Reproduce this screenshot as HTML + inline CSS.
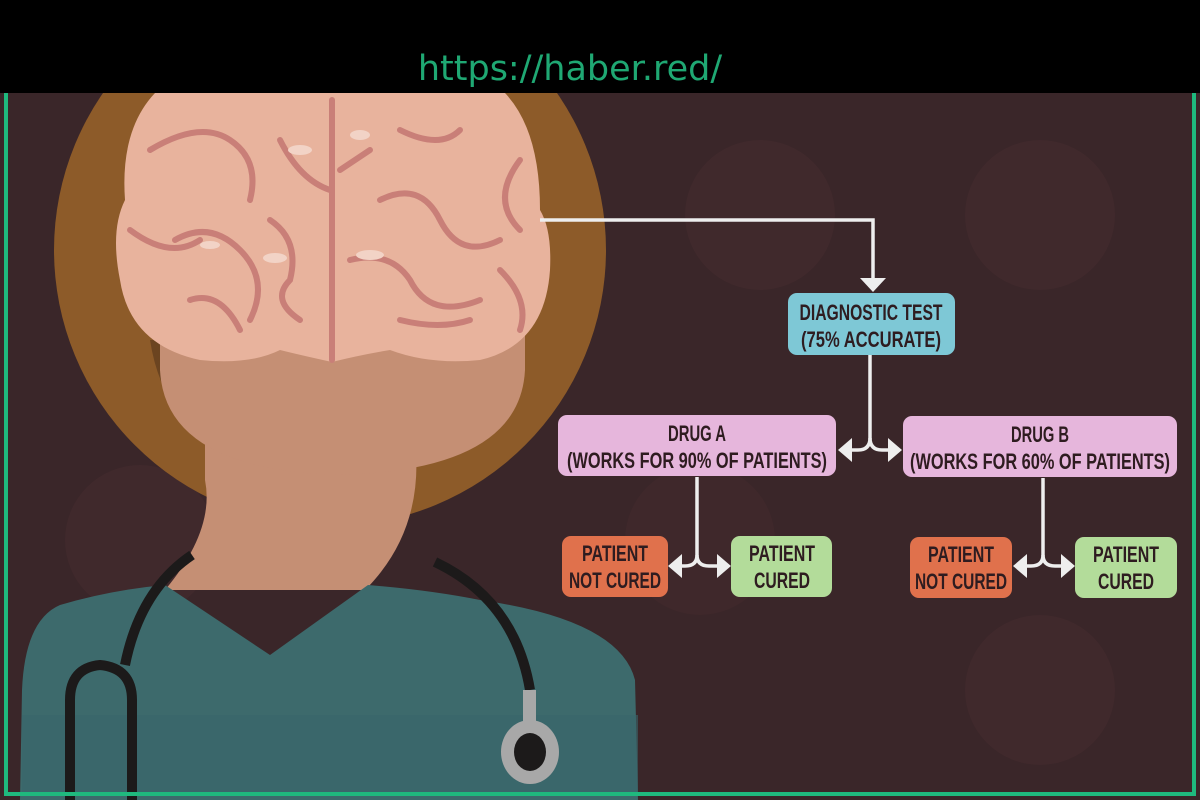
<!DOCTYPE html>
<html><head><meta charset="utf-8"><style>
html,body{margin:0;padding:0;background:#000;}
svg{display:block}
.t{font-family:"Liberation Sans",sans-serif;font-weight:bold;fill:#2e1c20;text-anchor:middle;}
</style></head><body>
<svg width="1200" height="800" viewBox="0 0 1200 800" xmlns="http://www.w3.org/2000/svg">
<rect x="0" y="0" width="1200" height="800" fill="#000"/>
<rect x="0" y="93" width="1200" height="707" fill="#3a2629"/>
<circle cx="760" cy="215" r="75" fill="#40292c"/>
<circle cx="1040" cy="215" r="75" fill="#40292c"/>
<circle cx="140" cy="540" r="75" fill="#40292c"/>
<circle cx="1040" cy="690" r="75" fill="#40292c"/>
<circle cx="700" cy="540" r="75" fill="#3f282b"/>
<text x="570" y="80" font-family="DejaVu Sans, sans-serif" font-size="35" fill="#1fa873" text-anchor="middle">https://haber.red/</text>
<defs><clipPath id="c"><rect x="0" y="93" width="1200" height="707"/></clipPath></defs>
<g clip-path="url(#c)">
<circle cx="330" cy="250" r="276" fill="#8d5b29"/>
<path d="M150 340 Q170 470 330 480 Q490 470 520 340 Z" fill="#6b4420"/>
<path d="M205 440 L205 480 Q215 530 165 590 L365 590 Q425 530 415 440 Z" fill="#c58f74"/>
<path d="M160 300 L525 300 L525 370 Q520 470 340 475 Q165 470 160 370 Z" fill="#c58f74"/>
<path d="M20 800 L22 690 Q25 620 60 605 Q110 590 165 585 L270 655 L368 585 Q430 590 480 600 Q620 620 635 680 L638 800 Z" fill="#3d6a6c"/>
<rect x="22" y="715" width="616" height="80" fill="#39666a" opacity="0.6"/>
<path d="M332 93 L332 362 Q300 355 280 350 Q250 365 200 360 Q130 345 120 280 Q110 230 125 200 Q120 130 155 93 Z" fill="#e8b39d"/>
<path d="M332 93 L332 362 Q360 355 390 350 Q430 365 480 360 Q545 345 550 270 Q552 230 540 210 Q540 130 505 93 Z" fill="#e8b39d"/>
<g stroke="#c97f78" stroke-width="6" fill="none" stroke-linecap="round">
<path d="M332 100 L332 360"/>
<path d="M150 150 Q200 120 230 140 Q260 160 250 200"/>
<path d="M175 240 Q210 220 240 250 Q270 280 250 320"/>
<path d="M130 230 Q170 260 200 240"/>
<path d="M280 140 Q300 180 330 190"/>
<path d="M270 220 Q300 240 290 280 Q270 300 300 320"/>
<path d="M190 300 Q220 290 240 330"/>
<path d="M400 130 Q440 150 460 130"/>
<path d="M380 200 Q420 180 440 220 Q460 260 500 240"/>
<path d="M520 160 Q490 200 520 230"/>
<path d="M350 260 Q390 250 410 280 Q430 320 480 300"/>
<path d="M400 320 Q440 330 470 320"/>
<path d="M500 270 Q530 300 520 330"/>
<path d="M340 170 L370 150"/>
</g>
<g fill="#f2d3c6"><ellipse cx="300" cy="150" rx="12" ry="5"/><ellipse cx="210" cy="245" rx="10" ry="4"/><ellipse cx="275" cy="258" rx="12" ry="5"/><ellipse cx="370" cy="255" rx="14" ry="5"/><ellipse cx="360" cy="135" rx="10" ry="5"/></g>
<g stroke="#1c1a1a" stroke-width="10" fill="none">
<path d="M192 555 Q140 590 125 665"/>
<path d="M70 800 L70 700 Q70 668 100 665 Q132 668 132 700 L132 800"/>
<path d="M435 562 Q515 600 530 690"/>
</g>
<rect x="523" y="690" width="13" height="38" fill="#a8a8a8"/>
<ellipse cx="530" cy="752" rx="29" ry="32" fill="#a8a8a8"/>
<ellipse cx="530" cy="752" rx="16" ry="19" fill="#1c1a1a"/>
</g>
<g stroke="#eeeeee" stroke-width="3.5" fill="none">
<path d="M540 220 L873 220 L873 278"/>
<path d="M870 355 L870 438 Q870 450 858 450 L845 450"/>
<path d="M870 438 Q870 450 882 450 L893 450"/>
<path d="M697 477 L697 555 Q697 566 685 566 L676 566"/>
<path d="M697 555 Q697 566 709 566 L722 566"/>
<path d="M1043 478 L1043 555 Q1043 566 1031 566 L1020 566"/>
<path d="M1043 555 Q1043 566 1055 566 L1066 566"/>
</g>
<g fill="#eeeeee">
<polygon points="860,278 886,278 873,292"/>
<polygon points="838,450 852,438 852,462"/>
<polygon points="902,450 888,438 888,462"/>
<polygon points="668,566 682,554 682,578"/>
<polygon points="731,566 717,554 717,578"/>
<polygon points="1013,566 1027,554 1027,578"/>
<polygon points="1075,566 1061,554 1061,578"/>
</g>
<rect x="788" y="293" width="167" height="62" rx="9" fill="#7ec8d6"/>
<text class="t" font-size="22" x="871" y="320" textLength="143" lengthAdjust="spacingAndGlyphs">DIAGNOSTIC TEST</text>
<text class="t" font-size="22" x="871" y="347" textLength="140" lengthAdjust="spacingAndGlyphs">(75% ACCURATE)</text>
<rect x="558" y="415" width="278" height="61" rx="9" fill="#e6b6dc"/>
<text class="t" font-size="22" x="697" y="441" textLength="58" lengthAdjust="spacingAndGlyphs">DRUG A</text>
<text class="t" font-size="22" x="697" y="468" textLength="260" lengthAdjust="spacingAndGlyphs">(WORKS FOR 90% OF PATIENTS)</text>
<rect x="903" y="416" width="274" height="61" rx="9" fill="#e6b6dc"/>
<text class="t" font-size="22" x="1040" y="442" textLength="58" lengthAdjust="spacingAndGlyphs">DRUG B</text>
<text class="t" font-size="22" x="1040" y="469" textLength="260" lengthAdjust="spacingAndGlyphs">(WORKS FOR 60% OF PATIENTS)</text>
<rect x="562" y="536" width="106" height="61" rx="9" fill="#e0714c"/>
<text class="t" font-size="22" x="615" y="561" textLength="66" lengthAdjust="spacingAndGlyphs">PATIENT</text>
<text class="t" font-size="22" x="615" y="588" textLength="92" lengthAdjust="spacingAndGlyphs">NOT CURED</text>
<rect x="731" y="536" width="101" height="61" rx="9" fill="#b3dc9a"/>
<text class="t" font-size="22" x="782" y="561" textLength="66" lengthAdjust="spacingAndGlyphs">PATIENT</text>
<text class="t" font-size="22" x="782" y="588" textLength="56" lengthAdjust="spacingAndGlyphs">CURED</text>
<rect x="910" y="537" width="102" height="61" rx="9" fill="#e0714c"/>
<text class="t" font-size="22" x="961" y="562" textLength="66" lengthAdjust="spacingAndGlyphs">PATIENT</text>
<text class="t" font-size="22" x="961" y="589" textLength="92" lengthAdjust="spacingAndGlyphs">NOT CURED</text>
<rect x="1075" y="537" width="102" height="61" rx="9" fill="#b3dc9a"/>
<text class="t" font-size="22" x="1126" y="562" textLength="66" lengthAdjust="spacingAndGlyphs">PATIENT</text>
<text class="t" font-size="22" x="1126" y="589" textLength="56" lengthAdjust="spacingAndGlyphs">CURED</text>
<path d="M6 93 L6 794 L1194 794 L1194 93" stroke="#1fb97e" stroke-width="4" fill="none"/>
</svg>
</body></html>
